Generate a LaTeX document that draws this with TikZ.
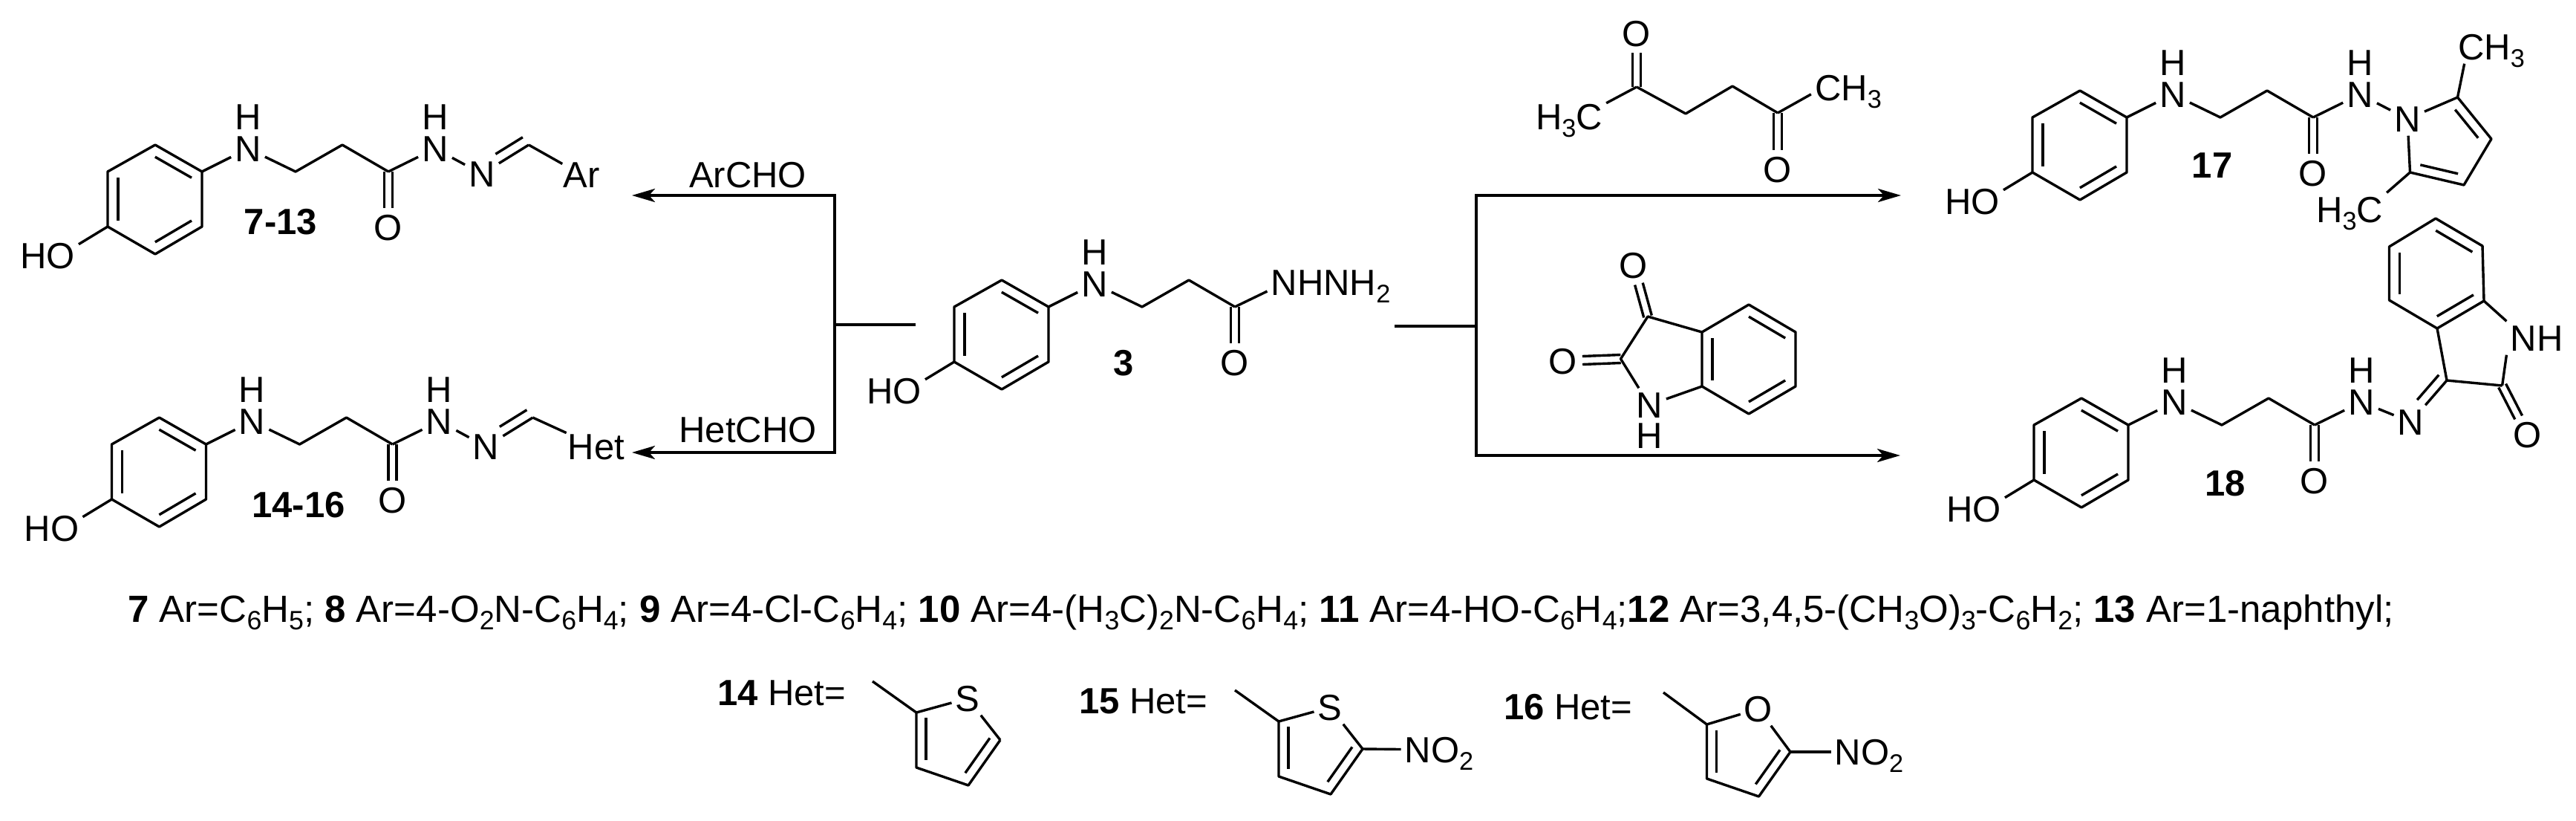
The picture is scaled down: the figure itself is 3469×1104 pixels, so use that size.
\documentclass[tikz,border=0pt]{standalone}
\usepackage{fontspec}
\usepackage{graphicx}
\usepackage{tikz}
\usetikzlibrary{calc,arrows.meta}
\setmainfont{Liberation Sans}

\newcommand{\sbs}[1]{\raisebox{-.2em}{\scalebox{.7}{#1}}}

\tikzset{
    bond/.style={line width=3.4pt},
    rxn/.style={line width=4pt},
    tip/.style={-{Stealth[length=31pt,width=18pt,inset=8pt]}},
    atom/.style={font=\fontsize{49}{55}\selectfont, text height=35pt, text depth=0pt, inner sep=5pt},
    word/.style={font=\fontsize{49}{55}\selectfont, text height=35pt, text depth=0pt, inner sep=0pt},
}

\newcommand{\dblbond}[2]{
    \draw[bond, shorten >=26pt] ($(#1)!5.5pt!90:(#2)$) -- ($(#2)!5.5pt!-90:(#1)$);
    \draw[bond, shorten >=26pt] ($(#1)!5.5pt!-90:(#2)$) -- ($(#2)!5.5pt!90:(#1)$);
}

\newcommand{\sidebond}[5]{
    \draw[bond] ($(#1)!#4!(#2)!13pt!#3:(#2)$) -- ($(#1)!#5!(#2)!13pt!#3:(#2)$);
}

\newcommand{\hydrazide}{
    \coordinate (m) at (208.5,268.5);
    \coordinate (r1) at (209,195);
    \coordinate (r2) at (272,231);
    \coordinate (r3) at (272,305);
    \coordinate (r4) at (209,342);
    \coordinate (r5) at (145,305);
    \coordinate (r6) at (145,231);
    \coordinate (c1) at (398,231);
    \coordinate (c2) at (461,195);
    \coordinate (c3) at (523,231);

    \node[atom] (ho) at (64,344) {HO};
    \node[atom] (n1) at (334,200) {N};
    \node[atom] (h1) at (334,157) {H};
    \node[atom] (o1) at (523,306) {O};

    \draw[bond, line join=round] (r1) -- (r2) -- (r3) -- (r4) -- (r5) -- (r6) -- cycle;
    \foreach \p/\q in {r1/r2, r3/r4, r5/r6}
        \draw[bond] ($(m)!.78!(\p)$) -- ($(m)!.78!(\q)$);
    \draw[bond] (r5) -- (ho.20);
    \draw[bond] (r2) -- (n1);
    \draw[bond, line join=round] (n1) -- (c1) -- (c2) -- (c3);
    \dblbond{c3}{o1}
}

\newcommand{\amide}{
    \node[atom] (n2) at (586,200) {N};
    \node[atom] (h2) at (586,157) {H};
    \draw[bond] (c3) -- (n2);
}

\newcommand{\hydrazone}[1]{
    \coordinate (c4) at (712,195);
    \node[atom] (n3) at (649,234) {N};
    #1
    \draw[bond] (n2) -- (n3);
    \draw[bond] (c4) -- (n3);
    \sidebond{c4}{n3}{-90}{.02}{.6}
    \draw[bond] (c4) -- (x);
}

\newcommand{\thiophene}{
    \coordinate (t1) at (1175,917);
    \coordinate (t2) at (1234,959);
    \coordinate (t3) at (1234,1033);
    \coordinate (t4) at (1304,1057);
    \coordinate (t5) at (1347,996);
    \node[atom] (s) at (1303,940) {S};
    \draw[bond] (t1) -- (t2);
    \draw[bond] (t2) -- (s);
    \draw[bond, line join=round] (t2) -- (t3) -- (t4) -- (t5);
    \draw[bond] (t5) -- (s);
    \sidebond{t2}{t3}{90}{.1}{.87}
    \sidebond{t4}{t5}{90}{.15}{.92}
}

\begin{document}
\begin{tikzpicture}[x=1pt, y=-1pt]
    \useasboundingbox (0,0) rectangle (3469,1104);

    \begin{scope}[name prefix=a-]
        \hydrazide
        \amide
        \hydrazone{\node[atom, inner sep=1pt] (x) at (783,235) {Ar};}
        \node[word] (lab) at (378,298) {\textbf{7-13}};
    \end{scope}

    \begin{scope}[shift={(5.5,367)}, name prefix=b-]
        \hydrazide
        \amide
        \hydrazone{\node[atom, inner sep=2pt] (x) at (797.5,234) {Het};}
        \node[word] (lab) at (396.5,312) {\textbf{14-16}};
    \end{scope}

    \begin{scope}[shift={(1140,182)}, name prefix=k-]
        \hydrazide
        \node[atom] (x) at (652,198) {NHNH\sbs{2}};
        \draw[bond] (c3) -- (x.188);
        \node[word] (lab) at (373,306) {\textbf{3}};
    \end{scope}

    \begin{scope}[shift={(2592,-73)}, name prefix=p-]
        \hydrazide
        \amide
        \coordinate (q5) at (717.5,204);
        \coordinate (q4) at (763,260);
        \coordinate (q3) at (726,322);
        \coordinate (q2) at (653.5,305);
        \node[atom] (n3) at (650,233) {N};
        \node[atom] (me1) at (763,136) {CH\sbs{3}};
        \node[atom] (me2) at (572,355) {H\sbs{3}C};
        \draw[bond] (n2) -- (n3);
        \draw[bond] (n3) -- (q5);
        \draw[bond, line join=round] (q5) -- (q4) -- (q3) -- (q2);
        \draw[bond] (q2) -- (n3);
        \draw[bond] (q5) -- (me1.212);
        \draw[bond] (q2) -- (me2.north east);
        \sidebond{q5}{q4}{-90}{.15}{.83}
        \sidebond{q2}{q3}{90}{.15}{.85}
        \node[word] (lab) at (387,295) {\textbf{17}};
    \end{scope}

    \begin{scope}[shift={(2594,341)}, name prefix=i-]
        \hydrazide
        \amide
        \coordinate (m2) at (687,27);
        \coordinate (w1) at (686,-47);
        \coordinate (w2) at (749,-10);
        \coordinate (w3) at (751,64);
        \coordinate (w4) at (688,101);
        \coordinate (w5) at (623.5,63);
        \coordinate (w6) at (623.5,-9);
        \coordinate (c5) at (701,171);
        \coordinate (c6) at (775.6,178);
        \node[atom] (n3) at (652.5,227) {N};
        \node[atom] (nh) at (822,114) {NH};
        \node[atom] (o2) at (809.5,244) {O};
        \draw[bond] (n2) -- (n3);
        \draw[bond] (c5) -- (n3);
        \sidebond{c5}{n3}{-90}{.02}{.62}
        \draw[bond, line join=round] (w1) -- (w2) -- (w3) -- (w4) -- (w5) -- (w6) -- cycle;
        \foreach \p/\q in {w1/w2, w3/w4, w5/w6}
            \draw[bond] ($(m2)!.78!(\p)$) -- ($(m2)!.78!(\q)$);
        \draw[bond, line join=round] (w4) -- (c5) -- (c6);
        \draw[bond] (w3) -- (nh.north west);
        \draw[bond] (c6) -- (nh.south west);
        \dblbond{c6}{o2}
        \node[word] (lab) at (402.5,309) {\textbf{18}};
    \end{scope}

    \coordinate (d1) at (2204,117);
    \coordinate (d2) at (2270,153);
    \coordinate (d3) at (2333,116);
    \coordinate (d4) at (2394,152);
    \node[atom] (d5) at (2113,157) {H\sbs{3}C};
    \node[atom] (d6) at (2489,118) {CH\sbs{3}};
    \node[atom] (d7) at (2204,45) {O};
    \node[atom] (d8) at (2394,228) {O};
    \draw[bond] (d1) -- (d5.20);
    \draw[bond, line join=round] (d1) -- (d2) -- (d3) -- (d4);
    \draw[bond] (d4) -- (d6.190);
    \dblbond{d1}{d7}
    \dblbond{d4}{d8}

    \coordinate (v0) at (2355,483.5);
    \coordinate (v1) at (2219,426);
    \coordinate (v2) at (2182.5,483);
    \coordinate (v3) at (2292,447);
    \coordinate (v4) at (2355,410);
    \coordinate (v5) at (2418,447);
    \coordinate (v6) at (2418,520);
    \coordinate (v7) at (2355,557);
    \coordinate (v8) at (2292,520);
    \node[atom] (v9) at (2200,357) {O};
    \node[atom] (v10) at (2105,486) {O};
    \node[atom] (v11) at (2221,545) {N};
    \node[atom] (v12) at (2221,586) {H};
    \draw[bond, line join=round] (v3) -- (v4) -- (v5) -- (v6) -- (v7) -- (v8) -- cycle;
    \foreach \p/\q in {v3/v8, v4/v5, v6/v7}
        \draw[bond] ($(v0)!.78!(\p)$) -- ($(v0)!.78!(\q)$);
    \draw[bond, line join=round] (v3) -- (v1) -- (v2) -- (v11);
    \draw[bond] (v8) -- (v11);
    \dblbond{v1}{v9}
    \dblbond{v2}{v10}

    \coordinate (l0) at (1233,437);
    \coordinate (l1) at (1124,437);
    \coordinate (l2) at (1124,263);
    \coordinate (l3) at (1124,609);
    \coordinate (l4) at (851,263);
    \coordinate (l5) at (851,609);
    \draw[rxn] (l0) -- (l1);
    \draw[rxn, line cap=rect] (l2) -- (l3);
    \draw[rxn, tip] (l2) -- (l4);
    \draw[rxn, tip] (l3) -- (l5);

    \coordinate (g0) at (1878,439);
    \coordinate (g1) at (1988,439);
    \coordinate (g2) at (1988,263);
    \coordinate (g3) at (1988,613);
    \coordinate (g4) at (2560,263);
    \coordinate (g5) at (2559,613);
    \draw[rxn] (g0) -- (g1);
    \draw[rxn, line cap=rect] (g2) -- (g3);
    \draw[rxn, tip] (g2) -- (g4);
    \draw[rxn, tip] (g3) -- (g5);

    \node[word] (archo) at (1007,235) {ArCHO};
    \node[word] (hetcho) at (1007,578) {HetCHO};

    \node[word, anchor=base, font=\fontsize{51}{55}\selectfont] (notes) at (1698,837) {\textbf{7} Ar=C\sbs{6}H\sbs{5}; \textbf{8} Ar=4-O\sbs{2}N-C\sbs{6}H\sbs{4}; \textbf{9} Ar=4-Cl-C\sbs{6}H\sbs{4}; \textbf{10} Ar=4-(H\sbs{3}C)\sbs{2}N-C\sbs{6}H\sbs{4}; \textbf{11} Ar=4-HO-C\sbs{6}H\sbs{4};\textbf{12} Ar=3,4,5-(CH\sbs{3}O)\sbs{3}-C\sbs{6}H\sbs{2}; \textbf{13} Ar=1-naphthyl;};

    \node[word, anchor=west] (het14) at (966,932) {\textbf{14} Het=};
    \node[word, anchor=west] (het15) at (1453,943) {\textbf{15} Het=};
    \node[word, anchor=west] (het16) at (2025,951) {\textbf{16} Het=};

    \begin{scope}[name prefix=u-]
        \thiophene
    \end{scope}

    \begin{scope}[shift={(488,12)}, name prefix=y-]
        \thiophene
        \node[atom] (no) at (1450,997) {NO\sbs{2}};
        \draw[bond] (t5) -- (no);
    \end{scope}

    \coordinate (f1) at (2240,932);
    \coordinate (f2) at (2298.5,975);
    \coordinate (f3) at (2298.5,1048);
    \coordinate (f4) at (2368.5,1072);
    \coordinate (f5) at (2411,1012);
    \node[atom] (f6) at (2368,954) {O};
    \node[atom] (f7) at (2517,1012) {NO\sbs{2}};
    \draw[bond] (f1) -- (f2);
    \draw[bond] (f2) -- (f6);
    \draw[bond, line join=round] (f2) -- (f3) -- (f4) -- (f5);
    \draw[bond] (f5) -- (f6);
    \draw[bond] (f5) -- (f7);
    \sidebond{f2}{f3}{90}{.11}{.89}
    \sidebond{f4}{f5}{90}{.15}{.92}
\end{tikzpicture}
\end{document}
